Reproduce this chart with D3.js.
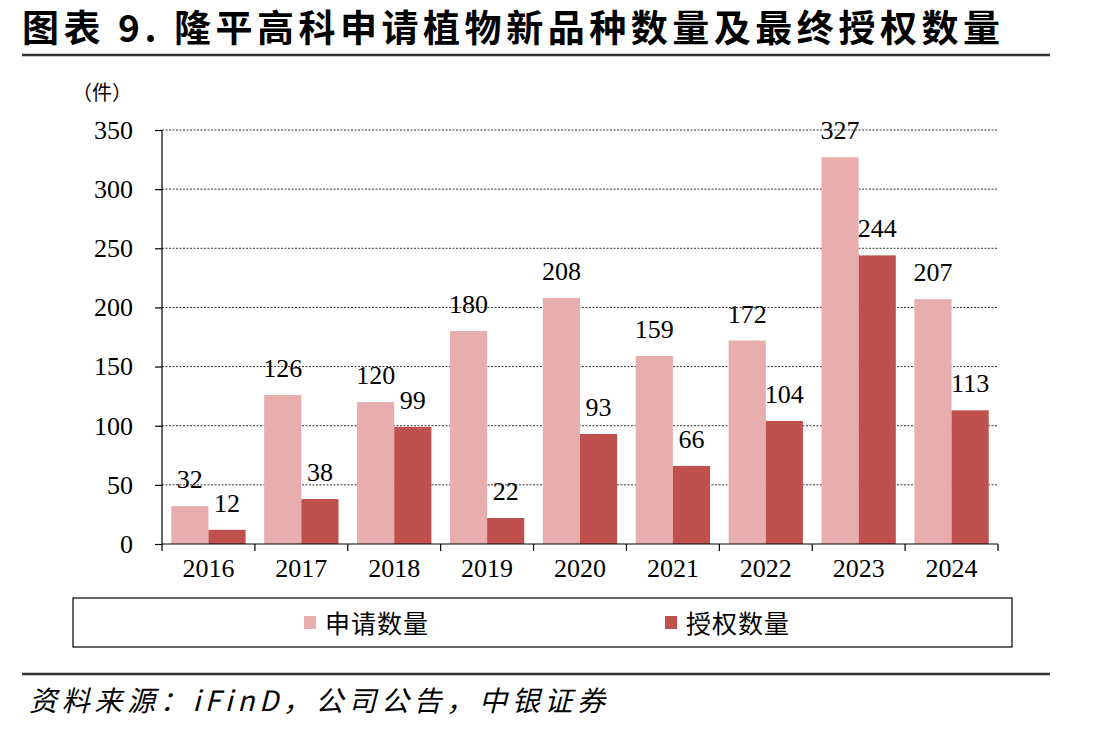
<!DOCTYPE html>
<html><head><meta charset="utf-8">
<script src="https://cdn.jsdelivr.net/npm/d3@7"></script>
<style>
body{margin:0;background:#fff;}
svg{display:block;}
</style></head>
<body>
<svg id="chart" width="1099" height="733"></svg>
<script>
const years = ["2016","2017","2018","2019","2020","2021","2022","2023","2024"];
const applied = [32,126,120,180,208,159,172,327,207];
const granted = [12,38,99,22,93,66,104,244,113];
const seriesNames = ["申请数量","授权数量"];
const seriesColors = ["#E8AEAD","#C0504D"];
const yTicks = [0,50,100,150,200,250,300,350];

const svg = d3.select("#chart");
const serif = "'Liberation Serif','Times New Roman',serif";
const cjk = "'Noto Sans CJK SC','Noto Sans CJK JP',sans-serif";

// Title
svg.append("text").attr("x",22).attr("y",42)
  .attr("font-family",cjk).attr("font-weight","bold").attr("font-size",37)
  .attr("textLength",978).attr("lengthAdjust","spacing")
  .attr("fill","#000").text("图表 9. 隆平高科申请植物新品种数量及最终授权数量");
svg.append("line").attr("x1",22).attr("x2",1050).attr("y1",55).attr("y2",55)
  .attr("stroke","#333").attr("stroke-width",2.5);

const plotL=162, plotR=998, plotT=130, plotB=544;
const x0 = d3.scaleBand().domain(years).range([plotL,plotR]).padding(0);
const x1 = d3.scaleBand().domain([0,1]).range([0,x0.bandwidth()]).paddingInner(0).paddingOuter(0.25);
const y = d3.scaleLinear().domain([0,350]).range([plotB,plotT]);

// unit
svg.append("text").attr("x",72).attr("y",100).attr("font-family",cjk).attr("font-size",20)
  .text("（件）");

// gridlines
svg.append("g").selectAll("line").data(yTicks.filter(d=>d>0)).join("line")
  .attr("x1",plotL).attr("x2",plotR).attr("y1",d=>y(d)).attr("y2",d=>y(d))
  .attr("stroke","#000").attr("stroke-width",0.8).attr("stroke-dasharray","2,1.5");

// y axis
const yAxis = d3.axisLeft(y).tickValues(yTicks).tickSize(7).tickPadding(22);
const gy = svg.append("g").attr("transform",`translate(${plotL},0)`).call(yAxis);
gy.select(".domain").attr("stroke","#000").attr("stroke-width",1.2).attr("d",`M0,${plotT}V${plotB}`);
gy.selectAll(".tick line").attr("stroke","#000").attr("stroke-width",1.2);
gy.selectAll(".tick text").attr("font-family",serif).attr("font-size",26).attr("fill","#000");

// bars
const data = years.map((yr,i)=>({yr, vals:[applied[i],granted[i]]}));
const groups = svg.append("g").selectAll("g").data(data).join("g")
  .attr("transform",d=>`translate(${x0(d.yr)},0)`);
groups.selectAll("rect").data(d=>d.vals.map((v,k)=>({v,k}))).join("rect")
  .attr("x",d=>x1(d.k)).attr("width",x1.bandwidth())
  .attr("y",d=>y(d.v)).attr("height",d=>y(0)-y(d.v))
  .attr("fill",d=>seriesColors[d.k]);
groups.selectAll("text").data(d=>d.vals.map((v,k)=>({v,k}))).join("text")
  .attr("x",d=>x1(d.k)+x1.bandwidth()/2).attr("y",d=>y(d.v)-18)
  .attr("text-anchor","middle").attr("font-family",serif).attr("font-size",26)
  .attr("fill","#000").text(d=>d.v);

// x axis
const gx = svg.append("g").attr("transform",`translate(0,${plotB})`);
gx.append("line").attr("x1",plotL).attr("x2",plotR).attr("y1",0).attr("y2",0)
  .attr("stroke","#000").attr("stroke-width",1.2);
const bounds = years.map(yr=>x0(yr)).concat([plotR]);
gx.selectAll("line.t").data(bounds).join("line").attr("class","t")
  .attr("x1",d=>d).attr("x2",d=>d).attr("y1",0).attr("y2",7)
  .attr("stroke","#000").attr("stroke-width",1.2);
gx.selectAll("text").data(years).join("text")
  .attr("x",d=>x0(d)+x0.bandwidth()/2).attr("y",33)
  .attr("text-anchor","middle").attr("font-family",serif).attr("font-size",26)
  .attr("fill","#000").text(d=>d);

// legend
svg.append("rect").attr("x",73).attr("y",598).attr("width",939).attr("height",49)
  .attr("fill","none").attr("stroke","#000").attr("stroke-width",1.2);
const legX = [304,665];
seriesNames.forEach((n,i)=>{
  svg.append("rect").attr("x",legX[i]).attr("y",616).attr("width",12).attr("height",13)
    .attr("fill",seriesColors[i]);
  svg.append("text").attr("x",legX[i]+21).attr("y",633).attr("font-family",cjk)
    .attr("font-size",25).attr("textLength",103).attr("lengthAdjust","spacing")
    .attr("fill","#000").text(n);
});

// bottom line and source
svg.append("line").attr("x1",22).attr("x2",1050).attr("y1",674).attr("y2",674)
  .attr("stroke","#333").attr("stroke-width",2.5);
svg.append("text").attr("x",29).attr("y",711).attr("font-family",cjk)
  .attr("font-style","italic").attr("font-size",28)
  .attr("textLength",576).attr("lengthAdjust","spacing").attr("fill","#000")
  .text("资料来源：iFinD，公司公告，中银证券");
</script>
</body></html>
